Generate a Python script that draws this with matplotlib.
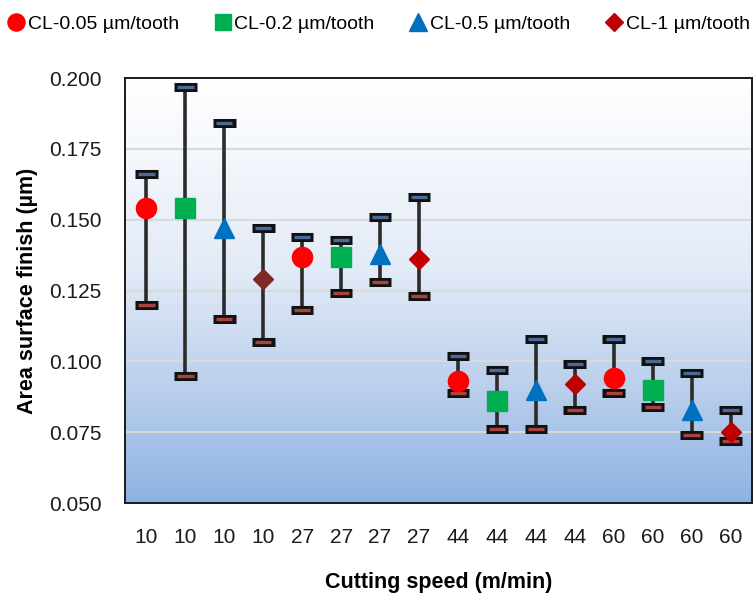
import numpy as np
import matplotlib.pyplot as plt
from matplotlib.colors import LinearSegmentedColormap
from matplotlib.lines import Line2D

speeds = ["10", "10", "10", "10", "27", "27", "27", "27",
          "44", "44", "44", "44", "60", "60", "60", "60"]
series = ["CL-0.05 µm/tooth", "CL-0.2 µm/tooth", "CL-0.5 µm/tooth", "CL-1 µm/tooth"]

finish = [0.154, 0.154, 0.147, 0.129, 0.137, 0.137, 0.138, 0.136,
          0.093, 0.086, 0.090, 0.092, 0.094, 0.090, 0.083, 0.075]
upper = [0.166, 0.197, 0.184, 0.147, 0.144, 0.143, 0.151, 0.158,
         0.102, 0.097, 0.108, 0.099, 0.108, 0.100, 0.096, 0.083]
lower = [0.120, 0.095, 0.115, 0.107, 0.118, 0.124, 0.128, 0.123,
         0.089, 0.076, 0.076, 0.083, 0.089, 0.084, 0.074, 0.072]

markers = ["o", "s", "^", "D"]
sizes = [14.5, 14, 14.5, 10.5]
colors = ["#FF0000", "#00B050", "#0070C0", "#C00000"]
diamond_first = "#7F2A26"

plt.rcParams['font.family'] = ['Liberation Sans', 'DejaVu Sans']

fig = plt.figure(figsize=(7.56, 5.96), dpi=100)
ax = fig.add_axes([0.1653, 0.156, 0.8294, 0.713])

x = np.arange(len(speeds))
ax.set_xlim(-0.55, len(speeds) - 0.45)
ax.set_ylim(0.05, 0.2)

# vertical white-to-blue fill behind the data
cmap = LinearSegmentedColormap.from_list(
    "bg", [(0, "#8DB3E2"), (0.25, "#B7CDEB"), (0.55, "#E3EBF7"), (1, "#FFFFFF")])
grad = np.linspace(0, 1, 256).reshape(-1, 1)
ax.imshow(grad, cmap=cmap, aspect="auto", origin="lower",
          extent=[-0.55, len(speeds) - 0.45, 0.05, 0.2], zorder=0)

for gy in [0.075, 0.1, 0.125, 0.15, 0.175]:
    ax.axhline(gy, color="#D9D9D9", lw=1.5, zorder=1)

# error bars with boxed caps
ax.vlines(x, lower, upper, color="#2B2B2B", lw=2.6, zorder=2)
ax.hlines(upper, x - 0.29, x + 0.29, color="#111111", lw=6.5, zorder=3)
ax.hlines(upper, x - 0.21, x + 0.21, color="#4A6A99", lw=2.4, zorder=4)
ax.hlines(lower, x - 0.29, x + 0.29, color="#111111", lw=6.5, zorder=3)
ax.hlines(lower, x - 0.21, x + 0.21, color="#A8443F", lw=2.4, zorder=4)

for i in range(len(speeds)):
    k = i % 4
    c = colors[k]
    if i == 3:
        c = diamond_first
    ax.plot(x[i], finish[i], marker=markers[k], ms=sizes[k], color=c,
            mec=c, ls="none", zorder=5)

ax.set_xticks(x)
ax.set_xticklabels(speeds)
ax.set_yticks([0.05, 0.075, 0.1, 0.125, 0.15, 0.175, 0.2])
ax.set_yticklabels(["0.050", "0.075", "0.100", "0.125", "0.150", "0.175", "0.200"])
ax.tick_params(axis="both", length=0, labelsize=15, colors="#1A1A1A")
ax.tick_params(axis="y", pad=17)
ax.tick_params(axis="x", pad=18)
for s in ax.spines.values():
    s.set_linewidth(1.4)
    s.set_color("#1A1A1A")

ax.set_ylabel("Area surface finish (µm)", fontsize=15.5, fontweight="bold", labelpad=8)
ax.set_xlabel("Cutting speed (m/min)", fontsize=15.5, fontweight="bold", labelpad=18)

handles = []
for k in range(4):
    handles.append(Line2D([], [], marker=markers[k], ms=sizes[k] * 0.85, color=colors[k],
                          ls="none"))
fig.legend(handles, series, loc="upper center", bbox_to_anchor=(0.5, 0.997), ncol=4,
           frameon=False, handletextpad=0.1, columnspacing=1.75, handlelength=1.0,
           borderaxespad=0.3, prop={'size': 14})

fig.savefig("out.png", dpi=100)
